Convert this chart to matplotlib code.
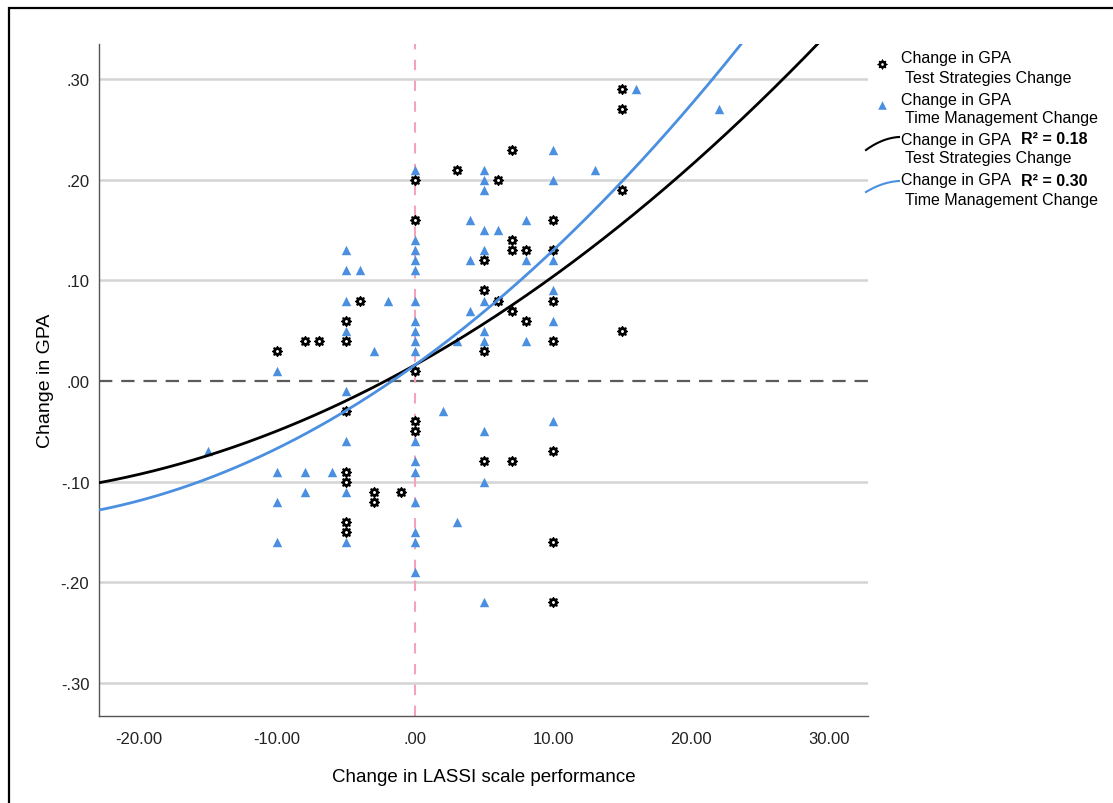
import numpy as np
import matplotlib
matplotlib.use("Agg")
import matplotlib.pyplot as plt
from matplotlib.patches import Rectangle

plt.rcParams['font.family'] = ['Liberation Sans', 'DejaVu Sans']

# Test Strategies Change (black markers)
ts_x = [-10, -8, -7, -5, -5, -4, -5, 0, 0, 0, 0, 0, -5, -5, -3, -3, -1, -5, -5,
        3, 5, 5, 5, 6, 6, 7, 7, 7, 8, 7, 8, 10, 10, 10, 10, 15, 15, 15, 15,
        5, 7, 10, 10, 10]
ts_y = [0.03, 0.04, 0.04, 0.06, 0.04, 0.08, -0.03, 0.01, 0.20, 0.16, -0.04, -0.05,
        -0.09, -0.10, -0.11, -0.12, -0.11, -0.14, -0.15,
        0.21, 0.12, 0.09, 0.03, 0.20, 0.08, 0.23, 0.14, 0.13, 0.13, 0.07, 0.06,
        0.16, 0.13, 0.08, 0.04, 0.29, 0.27, 0.19, 0.05,
        -0.08, -0.08, -0.07, -0.16, -0.22]

# Time Management Change (blue triangles)
tm_x = [-15, -10, -10, -10, -10, -8, -8, -6, -5, -5, -5, -5, -5, -5, -5, -5,
        -4, -3, -2, 0, 0, 0, 0, 0, 0, 0, 0, 0, 0, 0, 0, 0, 0, 0, 0, 0,
        2, 3, 3, 4, 4, 4, 5, 5, 5, 5, 5, 5, 5, 5, 5, 5, 5,
        6, 8, 8, 8, 10, 10, 10, 10, 10, 10, 13, 16, 22]
tm_y = [-0.07, 0.01, -0.09, -0.12, -0.16, -0.09, -0.11, -0.09, 0.13, 0.11, 0.08, 0.05,
        -0.01, -0.06, -0.11, -0.16,
        0.11, 0.03, 0.08, 0.21, 0.14, 0.13, 0.12, 0.11, 0.08, 0.06, 0.05, 0.04, 0.03,
        -0.06, -0.08, -0.09, -0.12, -0.15, -0.16, -0.19,
        -0.03, 0.04, -0.14, 0.16, 0.12, 0.07, 0.21, 0.20, 0.19, 0.15, 0.13, 0.08, 0.05,
        0.04, -0.05, -0.10, -0.22,
        0.15, 0.16, 0.12, 0.04, 0.23, 0.20, 0.12, 0.09, 0.06, -0.04, 0.21, 0.29, 0.27]

# quadratic fit coefficients (a, b, c)
ts_fit = [0.016, 0.00768, 0.000112]
tm_fit = [0.016, 0.00985, 0.000155]
ts_r2 = "0.18"
tm_r2 = "0.30"

y_ticks = [0.30, 0.20, 0.10, 0.00, -0.10, -0.20, -0.30]
y_labels = [".30", ".20", ".10", ".00", "-.10", "-.20", "-.30"]
x_ticks = [-20, -10, 0, 10, 20, 30]
x_labels = ["-20.00", "-10.00", ".00", "10.00", "20.00", "30.00"]

BLUE = '#4a8fe0'

W, H = 1113, 804
fig = plt.figure(figsize=(W / 100, H / 100), dpi=100)
ax = fig.add_axes([99 / W, 1 - 717 / H, (868 - 99) / W, (717 - 45) / H])

xmin, xmax = -22.9, 32.8
ymin, ymax = -0.333, 0.335
ax.set_xlim(xmin, xmax)
ax.set_ylim(ymin, ymax)

# grid lines and reference lines
for yt in y_ticks:
    if yt == 0:
        continue
    ax.axhline(yt, color='#d4d4d4', lw=1.8, zorder=0)
ax.axhline(0, color='#5a5a5a', lw=1.6, dashes=(6, 4), zorder=1)
ax.axvline(0, color='#f4a3bd', lw=1.5, dashes=(5, 5), zorder=1)

# scatter
ax.scatter(ts_x, ts_y, marker=(8, 2, 0), s=45, color='black', lw=1.1, zorder=3)
ax.scatter(ts_x, ts_y, marker='o', s=18, facecolor='white', edgecolor='black',
           lw=2.1, zorder=4)
ax.scatter(tm_x, tm_y, marker='^', s=46, color=BLUE, lw=0, zorder=5)

# fitted curves
xs = np.linspace(xmin, xmax, 400)
ax.plot(xs, ts_fit[0] + ts_fit[1] * xs + ts_fit[2] * xs ** 2, color='black', lw=2, zorder=6)
ax.plot(xs, tm_fit[0] + tm_fit[1] * xs + tm_fit[2] * xs ** 2, color=BLUE, lw=2, zorder=6)

ax.set_yticks(y_ticks)
ax.set_yticklabels(y_labels)
ax.set_xticks(x_ticks)
ax.set_xticklabels(x_labels)
ax.tick_params(length=0, labelsize=12, colors='#222222')
ax.tick_params(axis='x', pad=11)
ax.tick_params(axis='y', pad=7)
for s in ['top', 'right']:
    ax.spines[s].set_visible(False)
for s in ['left', 'bottom']:
    ax.spines[s].set_color('#555555')
    ax.spines[s].set_linewidth(1.0)

ax.set_xlabel("Change in LASSI scale performance", fontsize=13.5, labelpad=16)
ax.set_ylabel("Change in GPA", fontsize=14, labelpad=5)

# legend drawn in pixel coordinates
lg = fig.add_axes([0, 0, 1, 1], facecolor='none')
lg.set_xlim(0, W)
lg.set_ylim(H, 0)
lg.axis('off')

fs = 11.5
lg.scatter([882], [65], marker=(8, 2, 0), s=38, color='black', lw=1.0)
lg.scatter([882], [65], marker='o', s=14, facecolor='white', edgecolor='black', lw=1.8)
lg.text(901, 59, "Change in GPA", fontsize=fs, va='center', ha='left')
lg.text(905, 78, "Test Strategies Change", fontsize=fs, va='center', ha='left')

lg.scatter([882], [106], marker='^', s=38, color=BLUE, lw=0)
lg.text(901, 100, "Change in GPA", fontsize=fs, va='center', ha='left')
lg.text(905, 119, "Time Management Change", fontsize=fs, va='center', ha='left')

t = np.linspace(0, 1, 30)
lg.plot(866 + 33 * t, 151 - 24 * t + 11 * t ** 2, color='black', lw=1.5)
h3 = lg.text(901, 140, "Change in GPA", fontsize=fs, va='center', ha='left')
lg.text(905, 159, "Test Strategies Change", fontsize=fs, va='center', ha='left')

lg.plot(866 + 33 * t, 193 - 20 * t + 9 * t ** 2, color=BLUE, lw=1.5)
h4 = lg.text(901, 181, "Change in GPA", fontsize=fs, va='center', ha='left')
lg.text(905, 201, "Time Management Change", fontsize=fs, va='center', ha='left')

fig.canvas.draw()
r = fig.canvas.get_renderer()
x3 = h3.get_window_extent(r).x1 + 10
x4 = h4.get_window_extent(r).x1 + 10
lg.text(x3, 140, "R² = " + ts_r2, fontsize=fs, va='center', ha='left', fontweight='bold')
lg.text(x4, 181, "R² = " + tm_r2, fontsize=fs, va='center', ha='left', fontweight='bold')

# outer frame
fig.add_artist(Rectangle((9 / W, -0.01), 1.0, 1 - 9 / H + 0.01, transform=fig.transFigure,
                         fill=False, edgecolor='black', lw=1.6))

fig.savefig("out.png", dpi=100)
